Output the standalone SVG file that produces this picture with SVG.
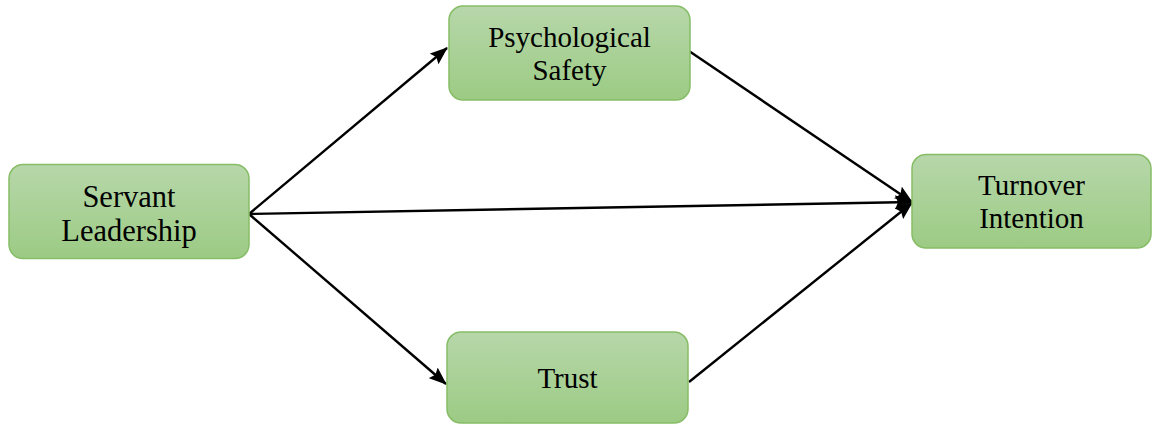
<svg xmlns="http://www.w3.org/2000/svg" width="1152" height="425" viewBox="0 0 1152 425">
<style>
.box{fill:url(#g);stroke:#86bd66;stroke-width:1.5}
.t{font-family:"Liberation Serif","Times New Roman",serif;font-size:29px;fill:#000;text-anchor:middle}
.s{font-size:30.5px}
.c{stroke:#000;stroke-width:2.4;fill:none;marker-end:url(#a)}
</style>
<defs>
<linearGradient id="g" x1="0" y1="0" x2="0" y2="1">
<stop offset="0" stop-color="#b7d7aa"/>
<stop offset="1" stop-color="#9ccb84"/>
</linearGradient>
<marker id="a" viewBox="0 0 18 14" refX="17" refY="7" markerWidth="18" markerHeight="14" markerUnits="userSpaceOnUse" orient="auto">
<path d="M0,0 L18,7 L0,14 L3,7 z" fill="#000"/>
</marker>
</defs>
<g id="connectors">
<line class="c" x1="249" y1="214" x2="447" y2="48"/>
<line class="c" x1="249" y1="214" x2="446" y2="384"/>
<line class="c" x1="249" y1="214" x2="912" y2="202"/>
<line class="c" x1="689" y1="51" x2="912" y2="202"/>
<line class="c" x1="689" y1="382" x2="912" y2="203"/>
</g>
<g id="servant">
<rect class="box" x="9" y="164.5" width="240" height="94" rx="14"/>
<text class="t s" x="129" y="207">Servant</text>
<text class="t s" x="129" y="241">Leadership</text>
</g>
<g id="psych">
<rect class="box" x="449" y="6" width="241" height="94" rx="14"/>
<text class="t" x="569.5" y="47">Psychological</text>
<text class="t" x="569.5" y="80">Safety</text>
</g>
<g id="turnover">
<rect class="box" x="912" y="154.5" width="239" height="93.5" rx="14"/>
<text class="t" x="1031.5" y="195">Turnover</text>
<text class="t" x="1031.5" y="228">Intention</text>
</g>
<g id="trust">
<rect class="box" x="447" y="332" width="241" height="91" rx="14"/>
<text class="t" x="567.5" y="388">Trust</text>
</g>
</svg>
